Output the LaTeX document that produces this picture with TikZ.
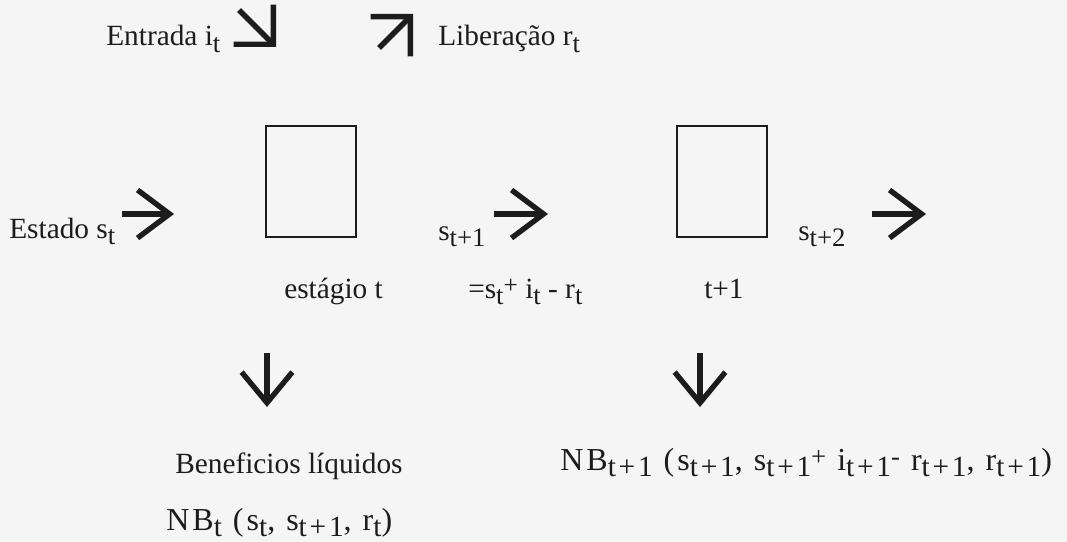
\documentclass[tikz,border=0pt]{standalone}
\usepackage{fontspec}
\setmainfont{Liberation Serif}
\newfontfamily\loose[LetterSpace=9.5]{Liberation Serif}
\usetikzlibrary{positioning,arrows.meta}
\definecolor{paper}{HTML}{F5F5F5}
\definecolor{ink}{HTML}{1C1C1C}
\newcommand{\lo}[1]{\raisebox{-0.45ex}{\fontsize{20}{20}\selectfont #1}}
\newcommand{\hi}[1]{\raisebox{0.3ex}{\fontsize{19}{19}\selectfont #1}}
\newcommand{\blo}[1]{\raisebox{-0.45ex}{\fontsize{22}{22}\selectfont #1}}
\newcommand{\bhi}[1]{\raisebox{0.3ex}{\fontsize{20}{20}\selectfont #1}}

\begin{document}
\begin{tikzpicture}[
  x=0.75pt, y=-0.75pt,
  font=\fontsize{22}{26}\selectfont,
  lbl/.style={anchor=base west, inner sep=0pt, text=ink},
  formula/.style={lbl, font=\loose\fontsize{24}{28}\selectfont},
  stage/.style={draw=ink, line width=1.5pt, minimum width=67pt, minimum height=83pt, inner sep=0pt},
  fat/.style={draw=ink, line width=4pt, line cap=butt},
  hflow/.style={fat, -{Straight Barb[sharp, length=24pt, width=36pt]}},
  vflow/.style={fat, -{Straight Barb[sharp, length=23pt, width=38pt]}},
  dflow/.style={fat, -{Straight Barb[sharp, length=21pt, width=42pt]}},
]
\fill[paper] (0,0) rectangle (1067,542);
\useasboundingbox (0,0) rectangle (1067,542);

% ===== top row: inflow and release =====
\node[lbl] (entrada) at (106,46) {Entrada i\lo{t}};
\node[lbl] (liberacao) at (438,46) {Liberação r\lo{t}};
\coordinate (in0) at (239,10);
\coordinate (in1) at (276,47);
\coordinate (out0) at (379,48);
\coordinate (out1) at (413,14);
\draw[dflow] (in0) -- (in1);
\draw[dflow] (out0) -- (out1);

% ===== stages =====
\node[stage] (st1) at (311,181.5) {};
\node[stage] (st2) at (722,181.5) {};

% ===== state chain =====
\node[lbl] (estado) at (9,238) {Estado s\lo{t}};
\node[lbl] (s1) at (438,240) {s\lo{t+1}};
\node[lbl] (s2) at (798,240) {s\lo{t+2}};
\coordinate (a0) at (122,214);
\coordinate (a1) at (174,214);
\coordinate (b0) at (494,214);
\coordinate (b1) at (548,214);
\coordinate (c0) at (872,214);
\coordinate (c1) at (926,214);
\draw[hflow] (a0) -- (a1);
\draw[hflow] (b0) -- (b1);
\draw[hflow] (c0) -- (c1);

% ===== labels under the stages =====
\node[lbl] (est1) at (284,298) {estágio t};
\node[lbl] (bal) at (468,298) {=s\lo{t}\hi{+} i\lo{t} - r\lo{t}};
\node[lbl] (est2) at (704,298) {t+1};

% ===== net benefits =====
\coordinate (d0) at (267,353);
\coordinate (d1) at (267,407);
\coordinate (e0) at (700,353);
\coordinate (e1) at (700,407);
\draw[vflow] (d0) -- (d1);
\draw[vflow] (e0) -- (e1);
\node[lbl] (benef) at (175,473) {Beneficios líquidos};
\node[formula] (nb1) at (166,530) {NB\blo{t} (s\blo{t}, s\blo{t+1}, r\blo{t})};
\node[formula] (nb2) at (560,470) {NB\blo{t+1} (s\blo{t+1}, s\blo{t+1}\bhi{+} i\blo{t+1}\bhi{-} r\blo{t+1}, r\blo{t+1})};

\end{tikzpicture}
\end{document}
